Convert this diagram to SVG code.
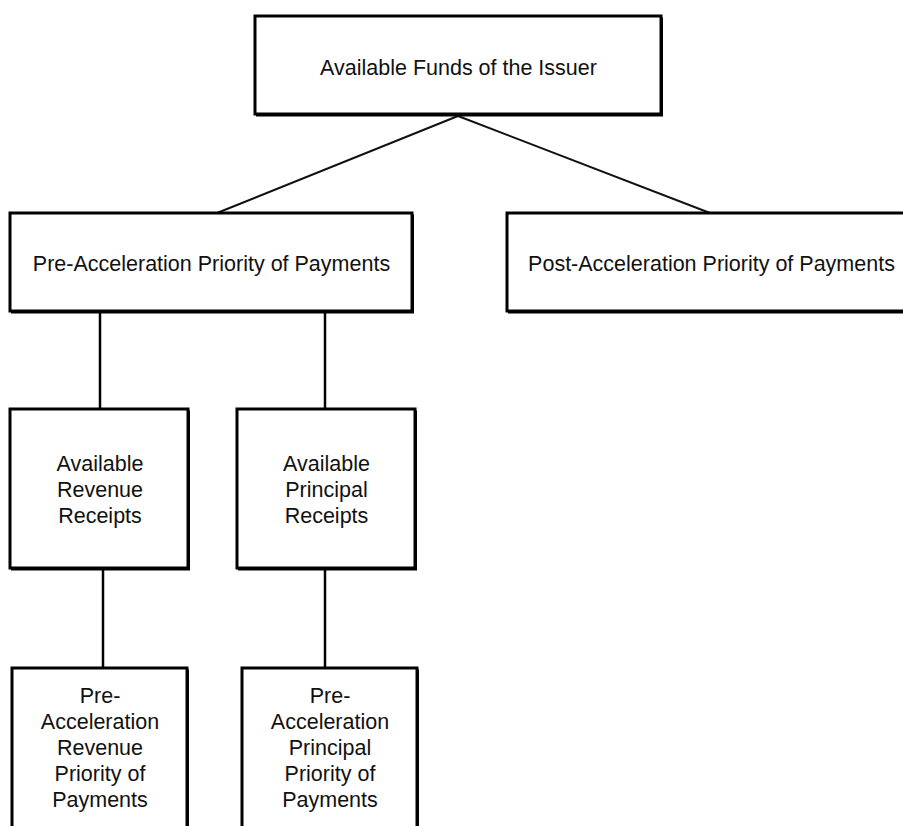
<svg xmlns="http://www.w3.org/2000/svg" width="903" height="826" viewBox="0 0 903 826">
<style>
.box{fill:#fff;stroke:#000;stroke-width:3}
.sh{fill:#000}
.t{font-family:"Liberation Sans",Arial,sans-serif;font-size:21.5px;fill:#111;text-anchor:middle}
.c{stroke:#000;stroke-width:2.5;fill:none}
.d{stroke:#111;stroke-width:2;fill:none}
</style>
<rect width="903" height="826" fill="#fff"/>
<g id="connectors">
<line class="d" x1="458" y1="116" x2="217" y2="213"/>
<line class="d" x1="458" y1="116" x2="710" y2="213"/>
<line class="c" x1="100" y1="312" x2="100" y2="409"/>
<line class="c" x1="325" y1="312" x2="325" y2="409"/>
<line class="c" x1="103" y1="570" x2="103" y2="668"/>
<line class="c" x1="325" y1="570" x2="325" y2="668"/>
</g>
<g id="funds">
<rect class="sh" x="256" y="17.5" width="407" height="99"/>
<rect class="box" x="255" y="16" width="406" height="98"/>
<text class="t" x="458.5" y="75">Available Funds of the Issuer</text>
</g>
<g id="pre">
<rect class="sh" x="11" y="214.5" width="403" height="99"/>
<rect class="box" x="10" y="213" width="402" height="98"/>
<text class="t" x="211.5" y="271">Pre-Acceleration Priority of Payments</text>
</g>
<g id="post">
<rect class="sh" x="508" y="214.5" width="409" height="99"/>
<rect class="box" x="507" y="213" width="408" height="98"/>
<text class="t" x="711.5" y="271">Post-Acceleration Priority of Payments</text>
</g>
<g id="rev">
<rect class="sh" x="11" y="410.5" width="179" height="160"/>
<rect class="box" x="10" y="409" width="178" height="159"/>
<text class="t" x="100" y="471">Available</text>
<text class="t" x="100" y="497">Revenue</text>
<text class="t" x="100" y="523">Receipts</text>
</g>
<g id="prin">
<rect class="sh" x="238" y="410.5" width="179" height="160"/>
<rect class="box" x="237" y="409" width="178" height="159"/>
<text class="t" x="326.5" y="471">Available</text>
<text class="t" x="326.5" y="497">Principal</text>
<text class="t" x="326.5" y="523">Receipts</text>
</g>
<g id="revpop">
<rect class="sh" x="13" y="669.5" width="176" height="200"/>
<rect class="box" x="12" y="668" width="175" height="200"/>
<text class="t" x="100" y="703">Pre-</text>
<text class="t" x="100" y="729">Acceleration</text>
<text class="t" x="100" y="755">Revenue</text>
<text class="t" x="100" y="781">Priority of</text>
<text class="t" x="100" y="807">Payments</text>
</g>
<g id="prinpop">
<rect class="sh" x="243" y="669.5" width="176" height="200"/>
<rect class="box" x="242" y="668" width="175" height="200"/>
<text class="t" x="330" y="703">Pre-</text>
<text class="t" x="330" y="729">Acceleration</text>
<text class="t" x="330" y="755">Principal</text>
<text class="t" x="330" y="781">Priority of</text>
<text class="t" x="330" y="807">Payments</text>
</g>
</svg>
